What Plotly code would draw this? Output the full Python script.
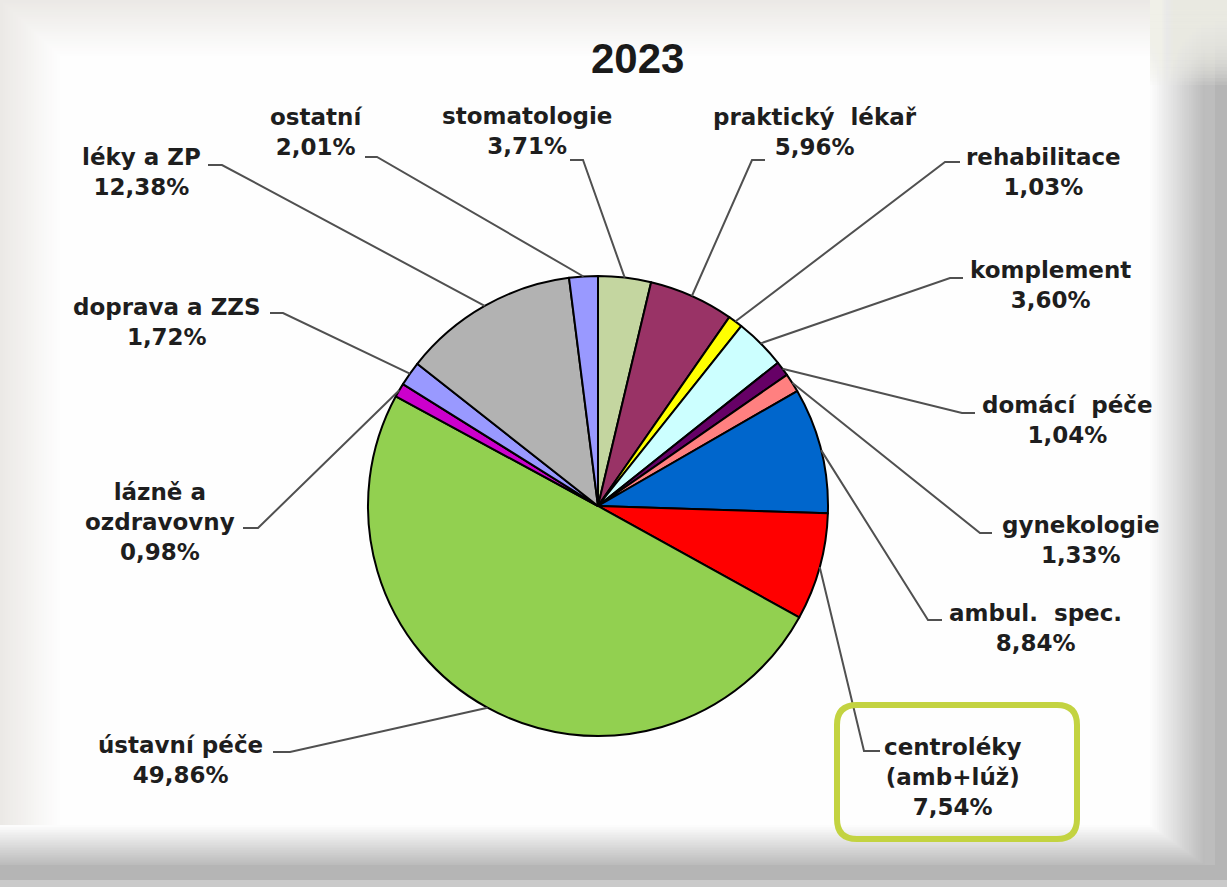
import numpy as np
import plotly.graph_objects as go

# ---- data (clockwise from 12 o'clock) ----
labels = ["stomatologie", "praktický lékař", "rehabilitace", "komplement",
          "domácí péče", "gynekologie", "ambul. spec.", "centroléky (amb+lúž)",
          "ústavní péče", "lázně a ozdravovny", "doprava a ZZS", "léky a ZP", "ostatní"]
values = [3.71, 5.96, 1.03, 3.60, 1.04, 1.33, 8.84, 7.54, 49.86, 0.98, 1.72, 12.38, 2.01]
label_text = ["stomatologie", "praktický  lékař", "rehabilitace", "komplement",
              "domácí  péče", "gynekologie", "ambul.  spec.", "centroléky<br>(amb+lúž)",
              "ústavní péče", "lázně a<br>ozdravovny", "doprava a ZZS", "léky a ZP", "ostatní"]
colors = ["#c4d6a0", "#993366", "#ffff00", "#ccffff", "#660066", "#ff8080",
          "#0066cc", "#ff0000", "#92d050", "#cc00cc", "#9999ff", "#b2b2b2", "#9999ff"]
title = "2023"

W, H = 1227, 887
# pie placement (pixels)
cx, cy, R = 598, 506, 230

# label block centres and leader line (text end, elbow)
label_pos = [(527, 131), (815, 132), (1043, 172), (1050, 285), (1067, 420), (1081, 540),
             (1035, 628), (953, 777), (180, 760), (160, 522), (167, 322), (141, 172), (316, 132)]
leader = [((570, 160), (583, 160)), ((765, 160), (752, 160)), ((960, 162), (945, 162)),
          ((963, 278), (950, 278)), ((975, 413), (962, 413)), ((992, 533), (980, 533)),
          ((942, 620), (928, 620)), ((880, 751), (864, 751)), ((273, 752), (290, 752)),
          ((243, 528), (258, 528)), ((270, 313), (283, 313)), ((208, 165), (222, 165)),
          ((365, 157), (377, 157))]

fig = go.Figure()

fig.add_trace(go.Pie(
    labels=labels, values=values, sort=False, direction="clockwise", rotation=0,
    marker=dict(colors=colors, line=dict(color="#000000", width=2)),
    textinfo="none", showlegend=False, hoverinfo="label+percent",
    domain=dict(x=[(cx - R) / W, (cx + R) / W], y=[(H - cy - R) / H, (H - cy + R) / H]),
))

shapes = []


def hexmix(c1, c2, t):
    a = [int(c1[i:i + 2], 16) for i in (1, 3, 5)]
    b = [int(c2[i:i + 2], 16) for i in (1, 3, 5)]
    return "#%02x%02x%02x" % tuple(round(a[k] + (b[k] - a[k]) * t) for k in range(3))


def rect(x0, y0, x1, y1, col):
    shapes.append(dict(type="rect", xref="x", yref="y", x0=x0, y0=y0, x1=x1, y1=y1,
                       fillcolor=col, line=dict(width=0), layer="below"))


# === frame (photo-like border) ===
rect(0, 0, W, H, "#cacaca")
rect(0, 0, W, 880, "#b5b5b5")
rect(0, 0, 1215, 865, "#bdbdbd")
n = 24
# right / bottom shadow: dark outside -> white inside
for i in range(n):
    t = i / n
    rect(0, 0, 1205 - 55 * t, 865 - 40 * t, hexmix("#bcbcbc", "#ffffff", t))
# top / left light edge
for i in range(n):
    t = i / n
    rect(62 * t, 58 * t, 1150, 825, hexmix("#ebe9e6", "#ffffff", t))
# light top edge fading out over the right shadow
for i in range(n):
    t = i / n
    rect(1150, 0, W, 85 * (1 - t), "rgba(240,238,235,0.13)")

# === leader lines ===
cum = np.cumsum(values)
total = cum[-1]
for i, v in enumerate(values):
    th = 2 * np.pi * (cum[i] - v / 2) / total
    px, py = cx + R * np.sin(th), cy - R * np.cos(th)
    (x0, y0), (x1, y1) = leader[i]
    shapes.append(dict(type="path", xref="x", yref="y",
                       path=f"M {x0},{y0} L {x1},{y1} L {px:.1f},{py:.1f}",
                       line=dict(color="#505050", width=2)))

# === green highlight box ===
bx0, by0, bx1, by1, r = 837, 705, 1077, 839, 20
shapes.append(dict(
    type="path", xref="x", yref="y",
    path=(f"M {bx0 + r},{by0} L {bx1 - r},{by0} Q {bx1},{by0} {bx1},{by0 + r} "
          f"L {bx1},{by1 - r} Q {bx1},{by1} {bx1 - r},{by1} L {bx0 + r},{by1} "
          f"Q {bx0},{by1} {bx0},{by1 - r} L {bx0},{by0 + r} Q {bx0},{by0} {bx0 + r},{by0} Z"),
    line=dict(color="#c3d341", width=6)))

# === labels ===
annotations = []
for i, v in enumerate(values):
    pct = f"{v:.2f}".replace(".", ",") + "%"
    annotations.append(dict(
        x=label_pos[i][0], y=label_pos[i][1], xref="x", yref="y",
        text=f"{label_text[i]}<br>{pct}", showarrow=False,
        xanchor="center", yanchor="middle", align="center",
        font=dict(family="DejaVu Sans", size=23, color="#1e1e1e", weight="bold"),
    ))
annotations.append(dict(
    x=637, y=58, xref="x", yref="y", text=title, showarrow=False,
    xanchor="center", yanchor="middle",
    font=dict(family="Liberation Sans", size=42, color="#1a1a1a", weight="bold"),
))

fig.update_layout(
    width=W, height=H,
    margin=dict(l=0, r=0, t=0, b=0),
    paper_bgcolor="#ffffff", plot_bgcolor="rgba(0,0,0,0)",
    xaxis=dict(range=[0, W], visible=False, fixedrange=True),
    yaxis=dict(range=[H, 0], visible=False, fixedrange=True),
    shapes=shapes, annotations=annotations,
    showlegend=False,
)

# drop the browser's default body margin so the figure sits at the window edge
fig.write_html("out.html", config={"displayModeBar": False},
               post_script="document.body.style.margin='0';document.body.style.overflow='hidden';")
